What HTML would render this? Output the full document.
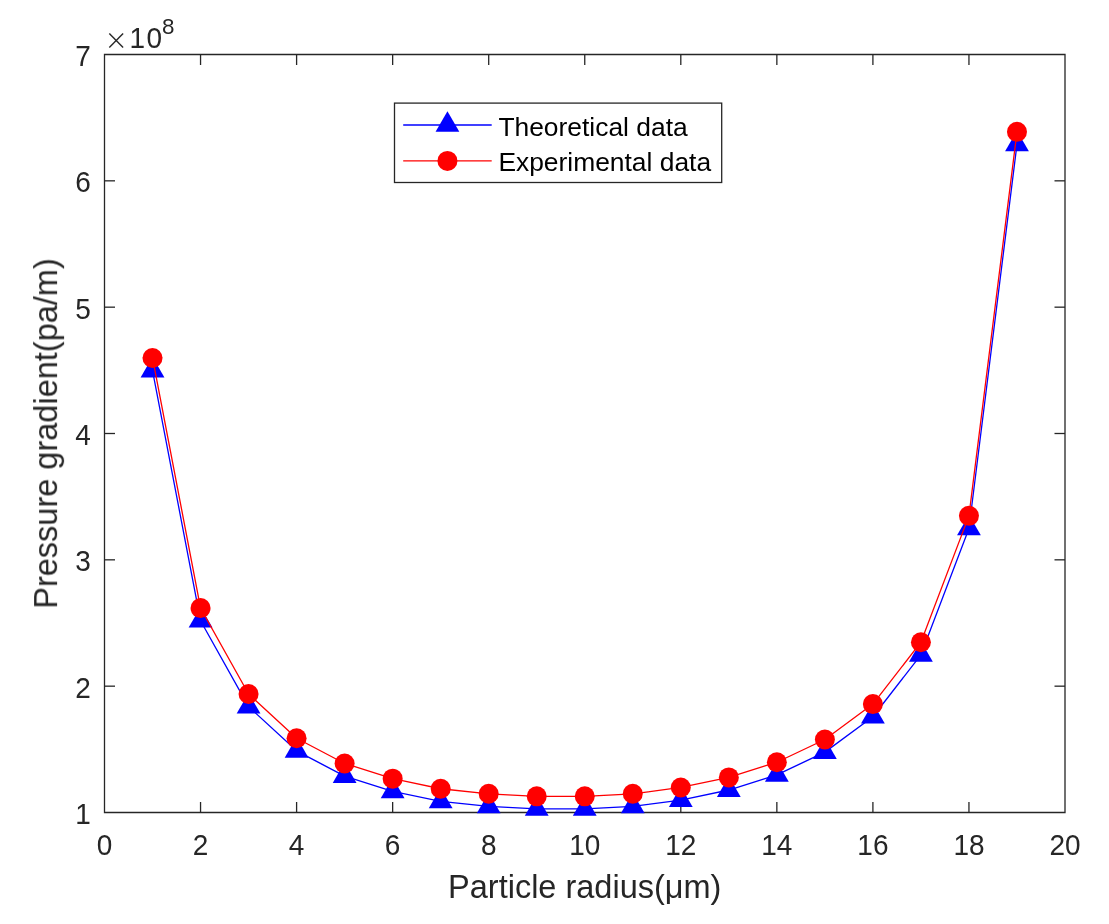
<!DOCTYPE html>
<html><head><meta charset="utf-8"><title>Pressure gradient vs particle radius</title>
<style>
html,body{margin:0;padding:0;background:#fff;}
body{width:1109px;height:924px;overflow:hidden;font-family:"Liberation Sans",sans-serif;}
svg{display:block;}
text{font-family:"Liberation Sans",sans-serif;fill:#262626;}
</style></head><body>
<svg width="1109" height="924" viewBox="0 0 1109 924">
<defs><filter id="g" x="0" y="0" width="1109" height="924" filterUnits="userSpaceOnUse" color-interpolation-filters="sRGB"><feColorMatrix type="saturate" values="0"/></filter></defs>
<rect x="0" y="0" width="1109" height="924" fill="#ffffff"/>

<g stroke="#262626" stroke-width="1.3" fill="none" stroke-linecap="butt">
<path d="M104.5 812.5H1065.0V54.5H104.5Z"/>
<line x1="200.55" y1="812.5" x2="200.55" y2="802.0"/>
<line x1="200.55" y1="54.5" x2="200.55" y2="65.0"/>
<line x1="296.60" y1="812.5" x2="296.60" y2="802.0"/>
<line x1="296.60" y1="54.5" x2="296.60" y2="65.0"/>
<line x1="392.65" y1="812.5" x2="392.65" y2="802.0"/>
<line x1="392.65" y1="54.5" x2="392.65" y2="65.0"/>
<line x1="488.70" y1="812.5" x2="488.70" y2="802.0"/>
<line x1="488.70" y1="54.5" x2="488.70" y2="65.0"/>
<line x1="584.75" y1="812.5" x2="584.75" y2="802.0"/>
<line x1="584.75" y1="54.5" x2="584.75" y2="65.0"/>
<line x1="680.80" y1="812.5" x2="680.80" y2="802.0"/>
<line x1="680.80" y1="54.5" x2="680.80" y2="65.0"/>
<line x1="776.85" y1="812.5" x2="776.85" y2="802.0"/>
<line x1="776.85" y1="54.5" x2="776.85" y2="65.0"/>
<line x1="872.90" y1="812.5" x2="872.90" y2="802.0"/>
<line x1="872.90" y1="54.5" x2="872.90" y2="65.0"/>
<line x1="968.95" y1="812.5" x2="968.95" y2="802.0"/>
<line x1="968.95" y1="54.5" x2="968.95" y2="65.0"/>
<line x1="104.5" y1="686.17" x2="115.0" y2="686.17"/>
<line x1="1065.0" y1="686.17" x2="1054.5" y2="686.17"/>
<line x1="104.5" y1="559.83" x2="115.0" y2="559.83"/>
<line x1="1065.0" y1="559.83" x2="1054.5" y2="559.83"/>
<line x1="104.5" y1="433.50" x2="115.0" y2="433.50"/>
<line x1="1065.0" y1="433.50" x2="1054.5" y2="433.50"/>
<line x1="104.5" y1="307.17" x2="115.0" y2="307.17"/>
<line x1="1065.0" y1="307.17" x2="1054.5" y2="307.17"/>
<line x1="104.5" y1="180.83" x2="115.0" y2="180.83"/>
<line x1="1065.0" y1="180.83" x2="1054.5" y2="180.83"/>
</g>
<g filter="url(#g)"><g font-size="28">
<text transform="translate(104.50,855.0) scale(1,1.085)" text-anchor="middle">0</text>
<text transform="translate(200.55,855.0) scale(1,1.085)" text-anchor="middle">2</text>
<text transform="translate(296.60,855.0) scale(1,1.085)" text-anchor="middle">4</text>
<text transform="translate(392.65,855.0) scale(1,1.085)" text-anchor="middle">6</text>
<text transform="translate(488.70,855.0) scale(1,1.085)" text-anchor="middle">8</text>
<text transform="translate(584.75,855.0) scale(1,1.085)" text-anchor="middle">10</text>
<text transform="translate(680.80,855.0) scale(1,1.085)" text-anchor="middle">12</text>
<text transform="translate(776.85,855.0) scale(1,1.085)" text-anchor="middle">14</text>
<text transform="translate(872.90,855.0) scale(1,1.085)" text-anchor="middle">16</text>
<text transform="translate(968.95,855.0) scale(1,1.085)" text-anchor="middle">18</text>
<text transform="translate(1065.00,855.0) scale(1,1.085)" text-anchor="middle">20</text>
<text transform="translate(90.7,824.00) scale(1,1.085)" text-anchor="end">1</text>
<text transform="translate(90.7,697.67) scale(1,1.085)" text-anchor="end">2</text>
<text transform="translate(90.7,571.33) scale(1,1.085)" text-anchor="end">3</text>
<text transform="translate(90.7,445.00) scale(1,1.085)" text-anchor="end">4</text>
<text transform="translate(90.7,318.67) scale(1,1.085)" text-anchor="end">5</text>
<text transform="translate(90.7,192.33) scale(1,1.085)" text-anchor="end">6</text>
<text transform="translate(90.7,66.00) scale(1,1.085)" text-anchor="end">7</text>
</g>
<g stroke="#262626" stroke-width="1.4" stroke-linecap="butt"><line x1="109.3" y1="33.4" x2="123.1" y2="47.4"/><line x1="123.1" y1="33.4" x2="109.3" y2="47.4"/></g>
<text transform="translate(129.5,47.6) scale(1,1.085)" font-size="28" letter-spacing="1.4">10</text>
<text transform="translate(162,34.2) scale(1,1.02)" font-size="22.4">8</text>
<text x="584.75" y="897.8" font-size="32.5" text-anchor="middle">Particle radius(μm)</text>
<text transform="translate(57.1,433.50) rotate(-90)" font-size="32.5" text-anchor="middle">Pressure gradient(pa/m)</text>
</g>
<polyline points="152.53,370.58 200.55,620.72 248.57,706.63 296.60,750.85 344.62,776.11 392.65,791.27 440.68,801.38 488.70,806.43 536.73,808.96 584.75,808.96 632.77,806.43 680.80,800.12 728.83,790.01 776.85,774.85 824.88,752.11 872.90,716.74 920.92,654.83 968.95,528.50 1016.98,144.45" fill="none" stroke="#0000ff" stroke-width="1.3" stroke-linejoin="round"/>
<polygon points="152.53,356.84 140.62,377.45 164.43,377.45" fill="#0000ff"/>
<polygon points="200.55,606.98 188.65,627.59 212.45,627.59" fill="#0000ff"/>
<polygon points="248.57,692.89 236.67,713.50 260.47,713.50" fill="#0000ff"/>
<polygon points="296.60,737.11 284.70,757.72 308.50,757.72" fill="#0000ff"/>
<polygon points="344.62,762.37 332.73,782.98 356.52,782.98" fill="#0000ff"/>
<polygon points="392.65,777.53 380.75,798.14 404.55,798.14" fill="#0000ff"/>
<polygon points="440.68,787.64 428.78,808.25 452.57,808.25" fill="#0000ff"/>
<polygon points="488.70,792.69 476.80,813.30 500.60,813.30" fill="#0000ff"/>
<polygon points="536.73,795.22 524.83,815.83 548.62,815.83" fill="#0000ff"/>
<polygon points="584.75,795.22 572.85,815.83 596.65,815.83" fill="#0000ff"/>
<polygon points="632.77,792.69 620.88,813.30 644.67,813.30" fill="#0000ff"/>
<polygon points="680.80,786.38 668.90,806.99 692.70,806.99" fill="#0000ff"/>
<polygon points="728.83,776.27 716.93,796.88 740.73,796.88" fill="#0000ff"/>
<polygon points="776.85,761.11 764.95,781.72 788.75,781.72" fill="#0000ff"/>
<polygon points="824.88,738.37 812.98,758.98 836.77,758.98" fill="#0000ff"/>
<polygon points="872.90,703.00 861.00,723.61 884.80,723.61" fill="#0000ff"/>
<polygon points="920.92,641.09 909.02,661.70 932.82,661.70" fill="#0000ff"/>
<polygon points="968.95,514.76 957.05,535.37 980.85,535.37" fill="#0000ff"/>
<polygon points="1016.98,130.71 1005.08,151.32 1028.88,151.32" fill="#0000ff"/>
<polyline points="152.53,357.95 200.55,608.09 248.57,694.00 296.60,738.21 344.62,763.48 392.65,778.64 440.68,788.75 488.70,793.80 536.73,796.33 584.75,796.33 632.77,793.80 680.80,787.48 728.83,777.38 776.85,762.22 824.88,739.48 872.90,704.10 920.92,642.20 968.95,515.87 1016.98,131.81" fill="none" stroke="#ff0000" stroke-width="1.3" stroke-linejoin="round"/>
<circle cx="152.53" cy="357.95" r="10.0" fill="#ff0000"/>
<circle cx="200.55" cy="608.09" r="10.0" fill="#ff0000"/>
<circle cx="248.57" cy="694.00" r="10.0" fill="#ff0000"/>
<circle cx="296.60" cy="738.21" r="10.0" fill="#ff0000"/>
<circle cx="344.62" cy="763.48" r="10.0" fill="#ff0000"/>
<circle cx="392.65" cy="778.64" r="10.0" fill="#ff0000"/>
<circle cx="440.68" cy="788.75" r="10.0" fill="#ff0000"/>
<circle cx="488.70" cy="793.80" r="10.0" fill="#ff0000"/>
<circle cx="536.73" cy="796.33" r="10.0" fill="#ff0000"/>
<circle cx="584.75" cy="796.33" r="10.0" fill="#ff0000"/>
<circle cx="632.77" cy="793.80" r="10.0" fill="#ff0000"/>
<circle cx="680.80" cy="787.48" r="10.0" fill="#ff0000"/>
<circle cx="728.83" cy="777.38" r="10.0" fill="#ff0000"/>
<circle cx="776.85" cy="762.22" r="10.0" fill="#ff0000"/>
<circle cx="824.88" cy="739.48" r="10.0" fill="#ff0000"/>
<circle cx="872.90" cy="704.10" r="10.0" fill="#ff0000"/>
<circle cx="920.92" cy="642.20" r="10.0" fill="#ff0000"/>
<circle cx="968.95" cy="515.87" r="10.0" fill="#ff0000"/>
<circle cx="1016.98" cy="131.81" r="10.0" fill="#ff0000"/>
<rect x="394.5" y="103.1" width="327.2" height="79.4" fill="#ffffff" stroke="#262626" stroke-width="1.3"/>
<line x1="403.2" y1="125" x2="491.7" y2="125" stroke="#0000ff" stroke-width="1.3"/>
<polygon points="447.45,111.26 435.55,131.87 459.35,131.87" fill="#0000ff"/>
<line x1="403.2" y1="160.9" x2="491.7" y2="160.9" stroke="#ff0000" stroke-width="1.3"/>
<circle cx="447.45" cy="160.9" r="10.0" fill="#ff0000"/>
<g filter="url(#g)">
<text x="498.4" y="135.5" font-size="26.4" style="fill:#000">Theoretical data</text>
<text x="498.4" y="171.4" font-size="26.4" style="fill:#000">Experimental data</text>
</g>
</svg></body></html>
